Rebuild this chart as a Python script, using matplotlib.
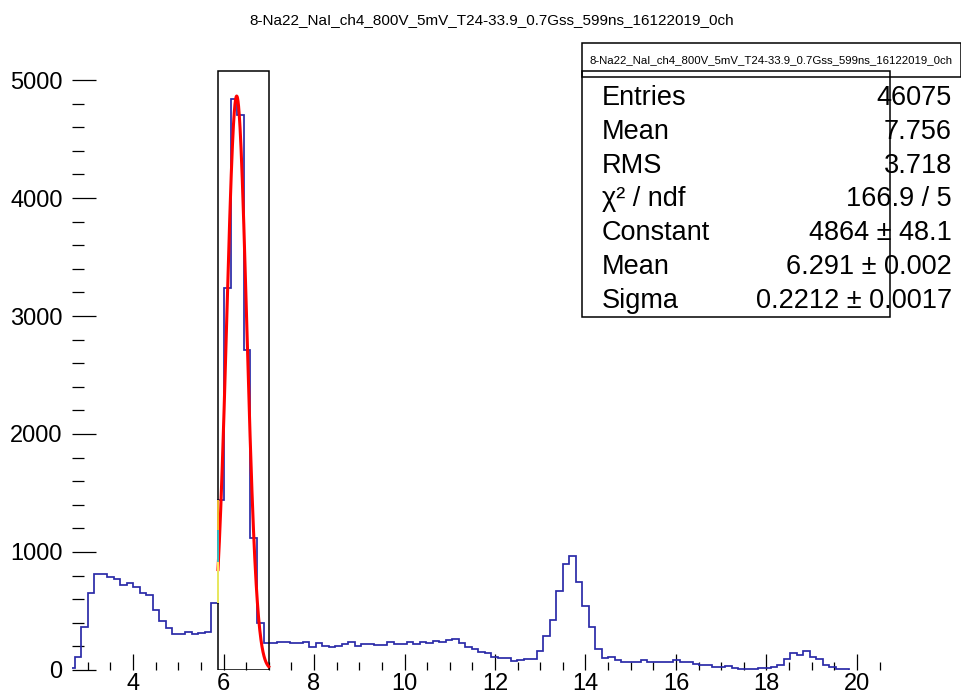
import matplotlib
matplotlib.use('Agg')
import matplotlib.pyplot as plt
import numpy as np
from matplotlib.patches import Rectangle
from matplotlib.ticker import MultipleLocator

plt.rcParams['font.family'] = ['Liberation Sans', 'DejaVu Sans']

# Data
title = '8-Na22_NaI_ch4_800V_5mV_T24-33.9_0.7Gss_599ns_16122019_0ch'

first_edge = 2.572
bin_width = 0.14373
counts = [20, 113, 367, 650, 811, 811, 790, 769, 720, 740,
          706, 650, 636, 510, 412, 353, 305, 305, 325, 305,
          316, 325, 570, 1441, 3237, 4836, 4703, 2712, 1120, 396,
          231, 231, 240, 240, 231, 231, 240, 198, 226, 206,
          198, 206, 217, 234, 206, 217, 217, 210, 210, 240,
          217, 217, 240, 222, 240, 226, 249, 240, 254, 262,
          226, 198, 181, 155, 141, 113, 105, 100, 78, 85,
          95, 95, 161, 288, 424, 669, 895, 969, 743, 542,
          367, 178, 99, 107, 85, 70, 70, 70, 85, 70,
          65, 65, 65, 85, 65, 72, 55, 42, 42, 28,
          28, 36, 20, 8, 8, 10, 20, 20, 28, 42,
          93, 141, 127, 161, 107, 93, 42, 23, 6, 6]

# gaus fit parameters and range
fit_const = 4864
fit_mean = 6.291
fit_sigma = 0.2212
fit_lo, fit_hi = 5.878, 7.0
box_top = 5076

# coloured pieces on the left edge of the fit box
edge_levels = [570, 915, 1186, 1441]
edge_colors = ['#ffff66', '#33cccc', '#ffcc33']

stat_names = ['Entries', 'Mean', 'RMS', 'χ² / ndf', 'Constant', 'Mean', 'Sigma']
stat_values = ['46075', '7.756', '3.718', '166.9 / 5', '4864 ± 48.1',
               '6.291 ± 0.002', '0.2212 ± 0.0017']

W, H = 962, 698
fig = plt.figure(figsize=(W / 100, H / 100), dpi=100)
ax = fig.add_axes([71.7 / W, 28 / H, (886.4 - 71.7) / W, (670 - 68.2) / H])

edges = first_edge + bin_width * np.arange(len(counts) + 1)
ax.stairs(counts, edges, color='#2a2aa8', lw=1.25, zorder=2)

xf = np.linspace(fit_lo, fit_hi, 300)
yf = fit_const * np.exp(-0.5 * ((xf - fit_mean) / fit_sigma) ** 2)
ax.plot(xf, yf, color='red', lw=2.2, zorder=3)

ax.add_patch(Rectangle((fit_lo, 0), fit_hi - fit_lo, box_top, fill=False,
                       ec='black', lw=1.1, zorder=2.5))
for i, c in enumerate(edge_colors):
    ax.vlines(fit_lo, edge_levels[i], edge_levels[i + 1], color=c, lw=1.3, zorder=4)

ax.set_xlim(2.645, 20.65)
ax.set_ylim(0, 5100)
for s in ax.spines.values():
    s.set_visible(False)

ax.xaxis.set_major_locator(MultipleLocator(2))
ax.xaxis.set_minor_locator(MultipleLocator(0.5))
ax.yaxis.set_major_locator(MultipleLocator(1000))
ax.yaxis.set_minor_locator(MultipleLocator(200))
ax.tick_params(axis='y', which='major', direction='in', length=17.3, width=0.9,
               labelsize=17, pad=6.5)
ax.tick_params(axis='y', which='minor', direction='in', length=8.6, width=0.9)
ax.tick_params(axis='x', which='major', direction='in', length=11.2, width=0.9,
               labelsize=17, pad=2.5)
ax.tick_params(axis='x', which='minor', direction='in', length=5.8, width=0.9)


def fx(x):
    return x / W


def fy(y):
    return 1 - y / H


fig.text(fx(492), fy(20), title, ha='center', va='center', fontsize=11)

# stats box
fig.add_artist(Rectangle((fx(581.7), fy(76.7)), (960.5 - 581.7) / W, (76.7 - 43.3) / H,
                         transform=fig.transFigure, fill=False, ec='black', lw=1.1))
fig.add_artist(Rectangle((fx(581.7), fy(316.7)), (890 - 581.7) / W, (316.7 - 70.7) / H,
                         transform=fig.transFigure, fill=False, ec='black', lw=1.1))
fig.text(fx(771), fy(60), title, ha='center', va='center', fontsize=8.2)
for i, (n, v) in enumerate(zip(stat_names, stat_values)):
    yb = fy(105 + i * 33.8)
    fig.text(fx(601.7), yb, n, ha='left', va='baseline', fontsize=19.5)
    fig.text(fx(951.7), yb, v, ha='right', va='baseline', fontsize=19.5)

fig.savefig('out.png', dpi=100)
